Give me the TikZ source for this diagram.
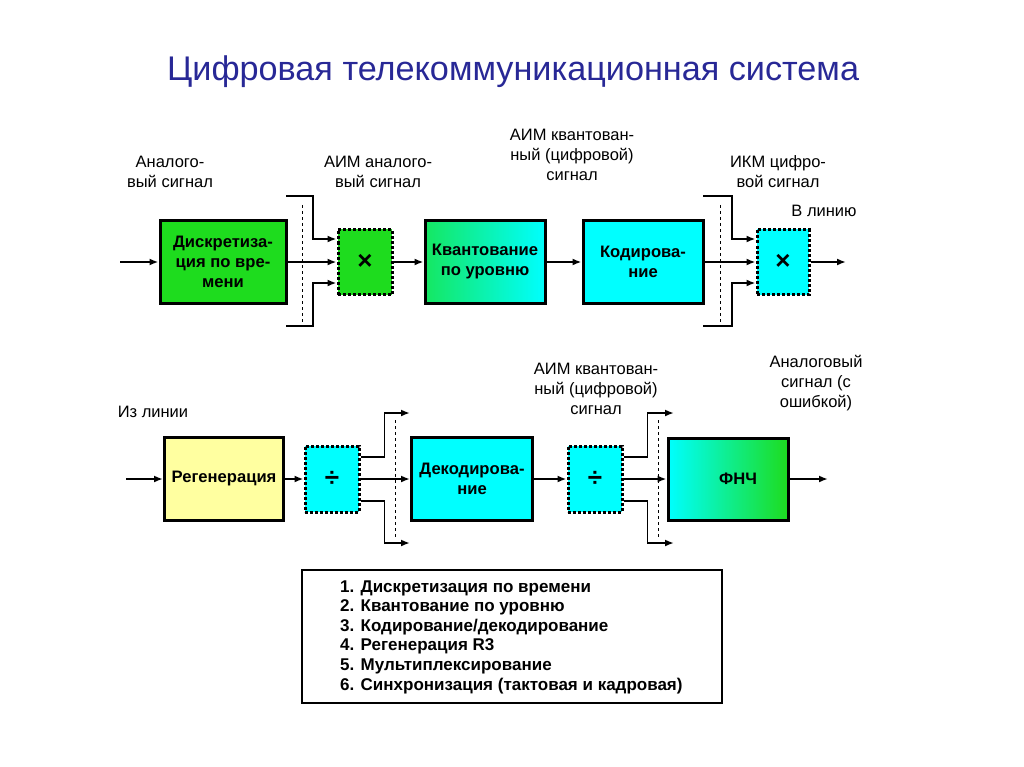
\documentclass[tikz,border=0pt]{standalone}
\usepackage{fontspec}
\setmainfont{Liberation Sans}
\usetikzlibrary{arrows.meta}
\definecolor{gruen}{RGB}{30,220,30}
\definecolor{tuerkis}{RGB}{0,255,255}
\definecolor{gelb}{RGB}{255,255,160}
\definecolor{titelblau}{RGB}{40,40,150}

\begin{document}
\begin{tikzpicture}[x=1pt,y=-1pt,>={Latex[length=9pt,width=7pt]},
blok/.style={draw, line width=3pt, minimum width=120pt, minimum height=82pt, inner sep=0pt, align=center, font=\fontsize{16.6}{20}\selectfont\bfseries},
muks/.style={draw, line width=3pt, dash pattern=on 3pt off 2pt, minimum width=54pt, minimum height=65pt, inner sep=0pt, font=\fontsize{26}{26}\selectfont\bfseries},
pfeil/.style={->, line width=1.8pt},
schrift/.style={align=center, inner sep=0pt, font=\fontsize{16.5}{20}\selectfont},
]

\useasboundingbox (0,0) rectangle (1024,767);
%\draw[help lines,yellow,thin] (0,0) grid[step=50] (1024,767);

\node  [font=\fontsize{34.2}{36}\selectfont, text=titelblau] (T) at (513,72){Цифровая телекоммуникационная система};

% obere Reihe
\node  [blok, fill=gruen, minimum width=126pt] (A) at (223,262){Дискретиза-\\ция по вре-\\мени};
\node  [muks, fill=gruen] (M1) at (365,262){×};
\node  [blok, left color=gruen!70!tuerkis, right color=tuerkis] (B) at (485,262){Квантование\\по уровню};
\node  [blok, fill=tuerkis] (C) at (643,262){Кодирова-\\ние};
\node  [muks, fill=tuerkis, minimum width=52pt] (M2) at (783,262){×};

\coordinate (in1) at (120,262);
\coordinate (out1) at (846,262);
\coordinate (u1) at (286,196);
\coordinate (d1) at (286,326);
\coordinate (u2) at (703,196);
\coordinate (d2) at (703,326);

\draw [pfeil] (in1) -- (A);
\draw [pfeil] (A) -- (M1);
\draw [pfeil] (M1) -- (B);
\draw [pfeil] (B) -- (C);
\draw [pfeil] (C) -- (M2);
\draw [pfeil] (M2) -- (out1);
\draw [pfeil] (u1) -- ++(27,0) |- ([yshift=23pt]M1.west);
\draw [pfeil] (d1) -- ++(27,0) |- ([yshift=-21pt]M1.west);
\draw [pfeil] (u2) -- ++(29,0) |- ([yshift=23pt]M2.west);
\draw [pfeil] (d2) -- ++(29,0) |- ([yshift=-21pt]M2.west);
\draw [dashed] (302,205) -- (302,322);
\draw [dashed] (720,205) -- (720,322);

\node  [schrift] (a1) at (170,172){Аналого-\\вый сигнал};
\node  [schrift] (a2) at (378,172){АИМ аналого-\\вый сигнал};
\node  [schrift] (a3) at (572,155){АИМ квантован-\\ный (цифровой)\\сигнал};
\node  [schrift] (a4) at (778,172){ИКМ цифро-\\вой сигнал};
\node  [schrift] (a5) at (824,211){В линию};

% untere Reihe
\node  [blok, fill=gelb, minimum width=119pt, minimum height=83pt] (R) at (224,479){Регенерация};
\node  [muks, fill=tuerkis, minimum height=66pt] (V1) at (332,479){÷};
\node  [blok, fill=tuerkis, minimum width=121pt, minimum height=83pt] (D) at (472,479){Декодирова-\\ние};
\node  [muks, fill=tuerkis, minimum height=66pt] (V2) at (595,479){÷};
\node  [blok, left color=tuerkis, right color=gruen] (F) at (728,479){\hspace*{20pt}ФНЧ};

\coordinate (in2) at (126,479);
\coordinate (out2) at (828,479);
\coordinate (o1) at (410,413);
\coordinate (o2) at (410,543);
\coordinate (o3) at (674,413);
\coordinate (o4) at (674,543);

\draw [pfeil] (in2) -- (R);
\draw [pfeil] (R) -- (V1);
\draw [pfeil] (V1) -- (D);
\draw [pfeil] (D) -- (V2);
\draw [pfeil] (V2) -- (F);
\draw [pfeil] (F) -- (out2);
\draw [pfeil] ([yshift=22pt]V1.east) -- ++(24,0) |- (o1);
\draw [pfeil] ([yshift=-22pt]V1.east) -- ++(24,0) |- (o2);
\draw [pfeil] ([yshift=22pt]V2.east) -- ++(24,0) |- (o3);
\draw [pfeil] ([yshift=-22pt]V2.east) -- ++(24,0) |- (o4);
\draw [dashed] (395,420) -- (395,538);
\draw [dashed] (658,420) -- (658,538);

\node  [schrift] (b1) at (153,412){Из линии};
\node  [schrift] (b2) at (596,389){АИМ квантован-\\ный (цифровой)\\сигнал};
\node  [schrift] (b3) at (816,383){Аналоговый\\сигнал (с\\ошибкой)};

% Liste
\node  [draw, line width=2pt, minimum width=420pt, minimum height=133pt] (L) at (512,636.5){};
\node  [anchor=west, align=left, inner sep=0pt, font=\fontsize{17}{19.6}\selectfont\bfseries] (Lt) at (340,637){1. Дискретизация по времени\\2. Квантование по уровню\\3. Кодирование/декодирование\\4. Регенерация R3\\5. Мультиплексирование\\6. Синхронизация (тактовая и кадровая)};
\end{tikzpicture}
\end{document}
